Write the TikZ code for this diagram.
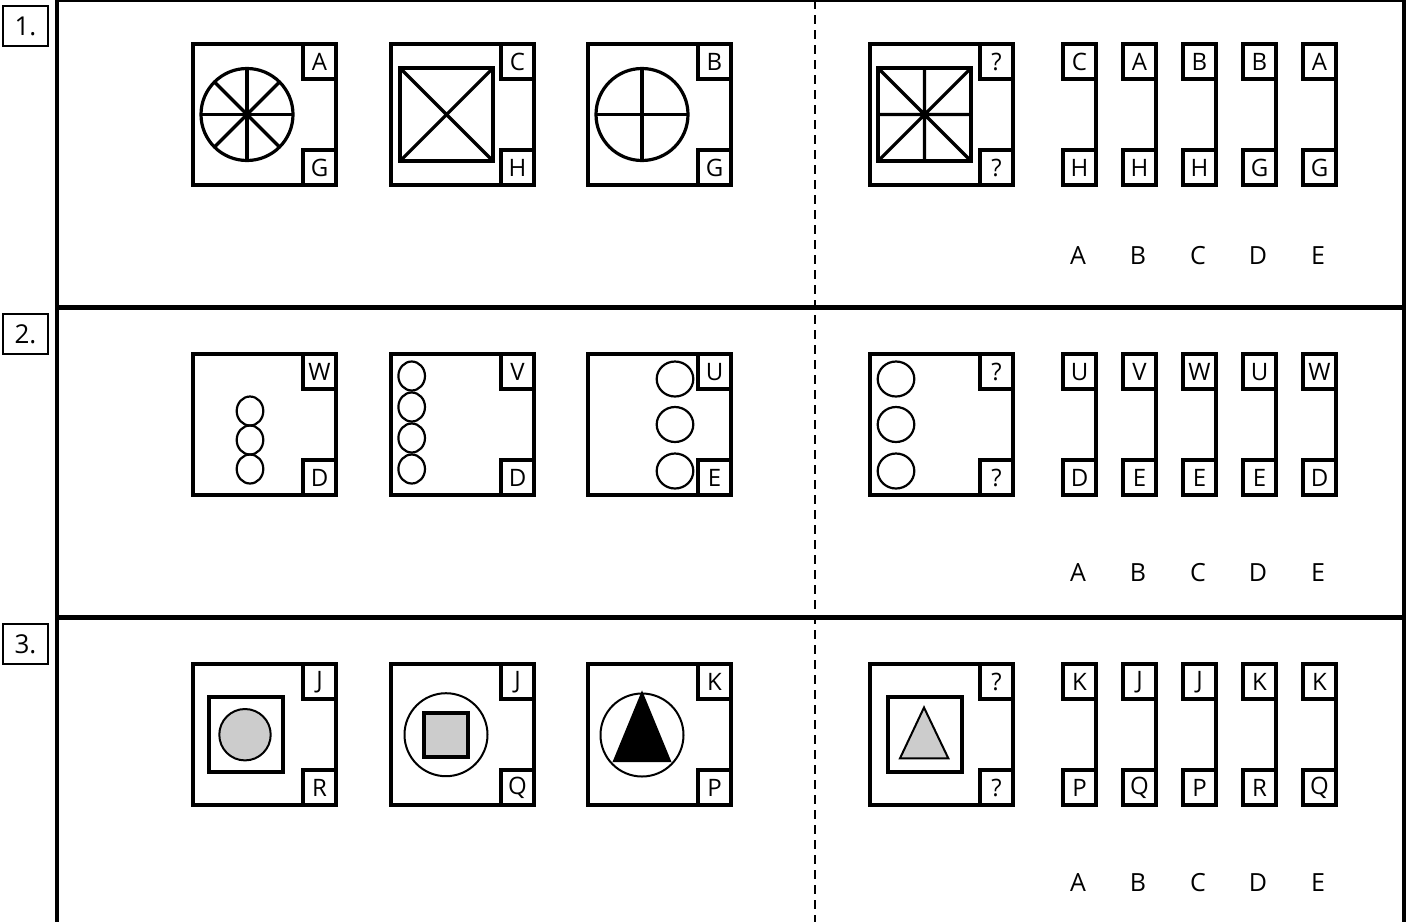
\documentclass[tikz,border=0pt]{standalone}
\usepackage{fontspec}
\setmainfont{Open Sans}
\definecolor{shade}{gray}{0.8}
\tikzset{
  fig/.style={line width=1.6pt, line join=miter},
  thinfig/.style={line width=1.1pt},
  lett/.style={font=\fontsize{12}{13}\selectfont, inner sep=0pt},
  anslab/.style={font=\fontsize{12.5}{14}\selectfont, inner sep=0pt},
  numbox/.style={draw, line width=0.6pt, minimum width=22.5pt, minimum height=20pt,
    font=\fontsize{13}{15}\selectfont, inner sep=0pt},
  sepline/.style={line width=2.5pt},
  edgeline/.style={line width=2pt},
  midline/.style={line width=1.25pt, dash pattern=on 4.5pt off 3pt}
}
% #1 name, #2 x of box left, #3 y top, #4 top letter, #5 bottom letter
\newcommand\pairbox[5]{%
  \draw[fig] (#2,#3) rectangle ++(33,35);
  \draw[fig] (#2+33,#3+35) -- (#2+33,#3+106);
  \draw[fig] (#2,#3+106) rectangle ++(33,35);
  \node[lett] (#1t) at (#2+16.5,#3+18) {#4};
  \node[lett] (#1b) at (#2+16.5,#3+124) {#5};
}
% open frame: #1 x left, #2 y top, #3 width
\newcommand\openframe[3]{%
  \draw[fig] (#1+#3,#2) -- (#1,#2) -- (#1,#2+141) -- (#1+#3,#2+141);
}
\begin{document}
\begin{tikzpicture}[x=0.5pt, y=-0.5pt]
\useasboundingbox (0,0) rectangle (1412,922);

% outer frame
\draw[edgeline] (57,0) -- (57,922);
\draw[edgeline] (1404,0) -- (1404,922);
\draw[line width=1.3pt] (57,1) -- (1404,1);
\draw[sepline] (57,307.5) -- (1404,307.5);
\draw[sepline] (57,617.5) -- (1404,617.5);
\draw[midline] (815,0) -- (815,922);

% number labels
\node[numbox] (n1) at (25.5,26) {1.};
\node[numbox] (n2) at (25.5,334) {2.};
\node[numbox] (n3) at (25.5,644) {3.};

% ================= Row 1 =================
\openframe{193}{44}{110}
\pairbox{r1f1}{303}{44}{A}{G}
\coordinate (c11) at (247,114.5);
\draw[fig] (c11) circle (46);
\foreach \a in {0,45,90,135} \draw[fig] (c11) ++(\a:46) -- ++(\a+180:92);

\openframe{391}{44}{110}
\pairbox{r1f2}{501}{44}{C}{H}
\draw[fig] (400,68) rectangle (493,161);
\draw[fig] (400,68) -- (493,161) (493,68) -- (400,161);

\openframe{588}{44}{110}
\pairbox{r1f3}{698}{44}{B}{G}
\coordinate (c13) at (642,114.5);
\draw[fig] (c13) circle (46);
\foreach \a in {0,90} \draw[fig] (c13) ++(\a:46) -- ++(\a+180:92);

\openframe{870}{44}{108}
\pairbox{r1q}{980}{44}{?}{?}
\draw[fig] (878,68) rectangle (971,161);
\draw[fig] (878,68) -- (971,161) (971,68) -- (878,161)
  (924.5,68) -- (924.5,161) (878,114.5) -- (971,114.5);

\foreach \t/\b [count=\i] in {C/H,A/H,B/H,B/G,A/G}{
  \pairbox{r1o\i}{1063+60*\i-60}{44}{\t}{\b}
}
\foreach \l [count=\i] in {A,B,C,D,E}
  \node[anslab] (r1l\l) at (1078+60*\i-60,256) {\l};

% ================= Row 2 =================
\openframe{193}{354}{110}
\pairbox{r2f1}{303}{354}{W}{D}
\foreach \y in {411,440,469}
  \draw[thinfig] (250,\y) ellipse [x radius=13.3, y radius=14.5];

\openframe{391}{354}{110}
\pairbox{r2f2}{501}{354}{V}{D}
\foreach \y in {376,407,438,469}
  \draw[thinfig] (411.7,\y) ellipse [x radius=13.3, y radius=14.5];

\openframe{588}{354}{110}
\pairbox{r2f3}{698}{354}{U}{E}
\foreach \y in {379,424.5,471}
  \draw[thinfig] (675,\y) ellipse [x radius=18.3, y radius=17.5];

\openframe{870}{354}{108}
\pairbox{r2q}{980}{354}{?}{?}
\foreach \y in {379,424.5,471}
  \draw[thinfig] (896,\y) ellipse [x radius=18.3, y radius=17.5];

\foreach \t/\b [count=\i] in {U/D,V/E,W/E,U/E,W/D}{
  \pairbox{r2o\i}{1063+60*\i-60}{354}{\t}{\b}
}
\foreach \l [count=\i] in {A,B,C,D,E}
  \node[anslab] (r2l\l) at (1078+60*\i-60,573) {\l};

% ================= Row 3 =================
\openframe{193}{664}{110}
\pairbox{r3f1}{303}{664}{J}{R}
\draw[fig] (209,697) rectangle (283,772);
\draw[line width=1pt, fill=shade] (245,734.7) circle (25.7);

\openframe{391}{664}{110}
\pairbox{r3f2}{501}{664}{J}{Q}
\draw[line width=1pt] (446,734.7) circle (41.5);
\draw[fig, fill=shade] (424,713) rectangle (468,757);

\openframe{588}{664}{110}
\pairbox{r3f3}{698}{664}{K}{P}
\draw[line width=1pt] (642,735) circle (41.5);
\draw[line width=1pt, fill=black] (642,693) -- (670,761) -- (614,761) -- cycle;

\openframe{870}{664}{108}
\pairbox{r3q}{980}{664}{?}{?}
\draw[fig] (888,697) rectangle (962,772);
\draw[line width=1pt, fill=shade] (924,707.5) -- (948.3,758.3) -- (900,758.3) -- cycle;

\foreach \t/\b [count=\i] in {K/P,J/Q,J/P,K/R,K/Q}{
  \pairbox{r3o\i}{1063+60*\i-60}{664}{\t}{\b}
}
\foreach \l [count=\i] in {A,B,C,D,E}
  \node[anslab] (r3l\l) at (1078+60*\i-60,883) {\l};
\end{tikzpicture}
\end{document}
